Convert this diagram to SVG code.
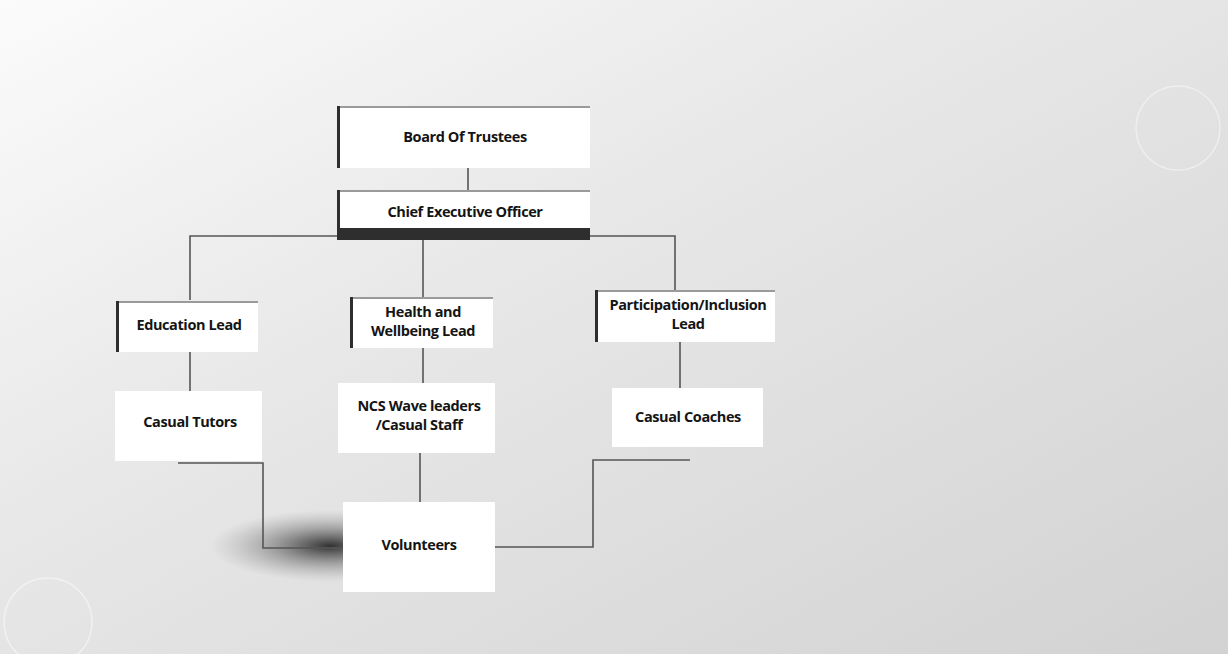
<svg xmlns="http://www.w3.org/2000/svg" width="1228" height="654" viewBox="0 0 1228 654">
  <defs>
    <linearGradient id="bg" x1="0" y1="0" x2="1" y2="1">
      <stop offset="0" stop-color="#fbfbfb"/>
      <stop offset="0.4" stop-color="#e8e8e8"/>
      <stop offset="1" stop-color="#d2d2d2"/>
    </linearGradient>
    <radialGradient id="smudge" cx="0.5" cy="0.5" r="0.5">
      <stop offset="0" stop-color="#1e1e1e" stop-opacity="0.9"/>
      <stop offset="0.45" stop-color="#444" stop-opacity="0.45"/>
      <stop offset="1" stop-color="#888" stop-opacity="0"/>
    </radialGradient>
    <style>
      .box { fill: #ffffff; }
      .top { fill: #9a9a9a; }
      .left { fill: #2e2e2e; }
      .lbl { font-family: "Open Sans", "Liberation Sans", sans-serif; font-weight: 700; font-size: 14.5px; fill: #141414; text-anchor: middle; letter-spacing: -0.4px; }
      .conn { fill: none; stroke: #555; stroke-width: 1.6; }
      .deco { fill: none; stroke: #ffffff; stroke-width: 1.5; opacity: 0.45; }
    </style>
  </defs>

  <rect x="0" y="0" width="1228" height="654" fill="url(#bg)"/>
  <circle class="deco" cx="1178" cy="128" r="42"/>
  <circle class="deco" cx="48" cy="622" r="44"/>
  <ellipse cx="330" cy="546" rx="120" ry="36" fill="url(#smudge)"/>

  <g id="connectors">
    <line class="conn" x1="468" y1="168" x2="468" y2="190"/>
    <polyline class="conn" points="190,300 190,236 675,236 675,290"/>
    <line class="conn" x1="423" y1="240" x2="423" y2="297"/>
    <line class="conn" x1="190" y1="352" x2="190" y2="391"/>
    <line class="conn" x1="423" y1="348" x2="423" y2="383"/>
    <line class="conn" x1="680" y1="342" x2="680" y2="388"/>
    <line class="conn" x1="420" y1="453" x2="420" y2="502"/>
    <polyline class="conn" points="178,463 263,463 263,548 343,548"/>
    <polyline class="conn" points="495,547 593,547 593,460 690,460"/>
  </g>

  <g id="board">
    <rect class="box" x="337" y="106" width="253" height="62"/>
    <rect class="top" x="337" y="106" width="253" height="2"/>
    <rect class="left" x="337" y="106" width="3" height="62"/>
    <text class="lbl" x="465" y="142">Board Of Trustees</text>
  </g>

  <g id="ceo">
    <rect class="box" x="337" y="190" width="253" height="50"/>
    <rect class="top" x="337" y="190" width="253" height="2"/>
    <rect class="left" x="337" y="190" width="3" height="50"/>
    <rect class="left" x="337" y="228" width="253" height="12"/>
    <text class="lbl" x="465" y="217">Chief Executive Officer</text>
  </g>

  <g id="education">
    <rect class="box" x="116" y="301" width="142" height="51"/>
    <rect class="top" x="116" y="301" width="142" height="2"/>
    <rect class="left" x="116" y="301" width="3" height="51"/>
    <text class="lbl" x="189" y="330">Education Lead</text>
  </g>

  <g id="health">
    <rect class="box" x="350" y="297" width="143" height="51"/>
    <rect class="top" x="350" y="297" width="143" height="2"/>
    <rect class="left" x="350" y="297" width="3" height="51"/>
    <text class="lbl" x="423" y="317">Health and</text>
    <text class="lbl" x="423" y="336">Wellbeing Lead</text>
  </g>

  <g id="participation">
    <rect class="box" x="595" y="290" width="180" height="52"/>
    <rect class="top" x="595" y="290" width="180" height="2"/>
    <rect class="left" x="595" y="290" width="3" height="52"/>
    <text class="lbl" x="688" y="310">Participation/Inclusion</text>
    <text class="lbl" x="688" y="329">Lead</text>
  </g>

  <g id="tutors">
    <rect class="box" x="115" y="391" width="147" height="70"/>
    <text class="lbl" x="190" y="427">Casual Tutors</text>
  </g>

  <g id="ncs">
    <rect class="box" x="338" y="383" width="157" height="70"/>
    <text class="lbl" x="419" y="411">NCS Wave leaders</text>
    <text class="lbl" x="419" y="430">/Casual Staff</text>
  </g>

  <g id="coaches">
    <rect class="box" x="612" y="388" width="151" height="59"/>
    <text class="lbl" x="688" y="422">Casual Coaches</text>
  </g>

  <g id="volunteers">
    <rect class="box" x="343" y="502" width="152" height="90"/>
    <text class="lbl" x="419" y="550">Volunteers</text>
  </g>
</svg>
